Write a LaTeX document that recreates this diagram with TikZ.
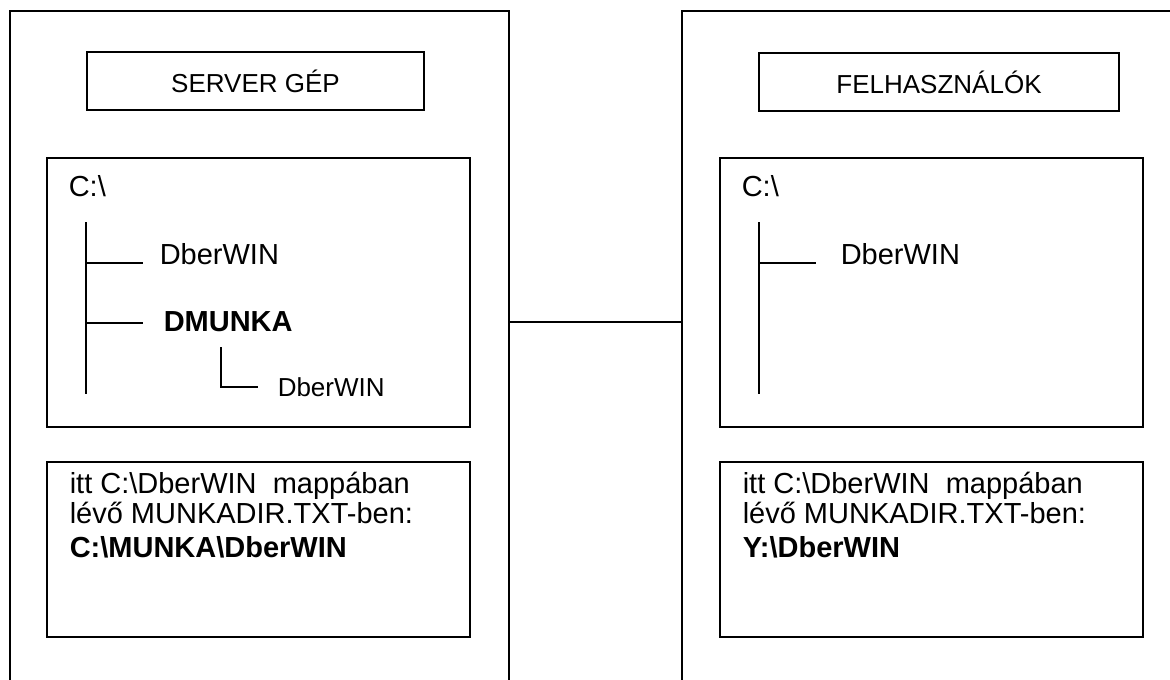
\documentclass[tikz,border=0pt]{standalone}
\usepackage{fontspec}
\setmainfont{Liberation Sans}
\begin{document}
\begin{tikzpicture}[x=0.5pt, y=-0.5pt, line width=0.75pt,
  box/.style={draw, inner sep=0pt, font=\fontsize{13}{15}\selectfont},
  txt/.style={anchor=base west, inner sep=0pt, font=\fontsize{14.5}{17}\selectfont},
  sml/.style={anchor=base west, inner sep=0pt, font=\fontsize{13}{15}\selectfont},
  tree/.style={line width=0.6pt}]

\useasboundingbox (0,0) rectangle (1170,679);
\clip (0,0) rectangle (1170,679);

% Outer frames (cut off at the bottom)
\draw (10,720) -- (10,11) -- (509,11) -- (509,720);
\draw (682,720) -- (682,11) -- (1220,11);

% Link between the two machines
\coordinate (lf) at (509,322);
\coordinate (rf) at (682,322);
\draw (lf) -- (rf);

% Title boxes
\node[box, minimum width=168.5pt, minimum height=29pt] (srv) at (255.5,81) {SERVER GÉP};
\node[box, minimum width=180pt, minimum height=29pt] (usr) at (939,82) {FELHASZNÁLÓK};

% Folder boxes
\node[box, minimum width=211.5pt, minimum height=134.5pt] (ltree) at (258.5,292.5) {};
\node[box, minimum width=211.5pt, minimum height=134.5pt] (rtree) at (931.5,292.5) {};

% Note boxes
\node[box, minimum width=211.5pt, minimum height=87.5pt] (lnote) at (258.5,549.5) {};
\node[box, minimum width=211.5pt, minimum height=87.5pt] (rnote) at (931.5,549.5) {};

% Server tree
\node[txt] (lroot) at (68,197) {C:\textbackslash};
\draw[tree] (86,222) -- (86,394);
\draw[tree] (86,263) -- (143,263);
\draw[tree] (86,323) -- (143,323);
\node[txt] (ldber) at (159,264) {DberWIN};
\node[txt, font=\fontsize{14.5}{17}\selectfont\bfseries] (lmunka) at (163,331) {DMUNKA};
\draw[tree] (221,347) -- (221,387) -- (258,387);
\node[sml] (lsub) at (277,396) {DberWIN};

% User tree
\node[txt] (rroot) at (741,197) {C:\textbackslash};
\draw[tree] (759,222) -- (759,394);
\draw[tree] (759,263) -- (816,263);
\node[txt] (rdber) at (840,264) {DberWIN};

% Server note
\node[txt] (ln1) at (69,493) {itt C:\textbackslash DberWIN~ mappában};
\node[txt] (ln2) at (69,523) {lévő MUNKADIR.TXT-ben:};
\node[txt, font=\fontsize{14.5}{17}\selectfont\bfseries] (ln3) at (69,557) {C:\textbackslash MUNKA\textbackslash DberWIN};

% User note
\node[txt] (rn1) at (742,493) {itt C:\textbackslash DberWIN~ mappában};
\node[txt] (rn2) at (742,523) {lévő MUNKADIR.TXT-ben:};
\node[txt, font=\fontsize{14.5}{17}\selectfont\bfseries] (rn3) at (742,557) {Y:\textbackslash DberWIN};

\end{tikzpicture}
\end{document}
